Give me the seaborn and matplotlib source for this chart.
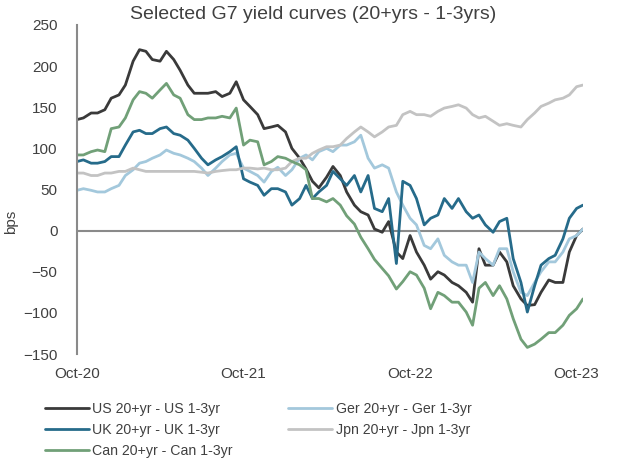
import pandas as pd
import numpy as np
import matplotlib
matplotlib.use("Agg")
import matplotlib.pyplot as plt
import matplotlib.dates as mdates
import seaborn as sns

# semi-monthly observations, Oct-2020 .. mid Oct-2023 (bps)
dates = pd.date_range("2020-10-01", periods=74, freq="SMS")

us = [135, 137, 143, 143, 147, 161, 165, 177, 206, 220,
      218, 208, 206, 218, 208, 195, 177, 167, 167, 167,
      169, 163, 167, 181, 159, 151, 141, 124, 126, 128,
      120, 100, 88, 75, 60, 52, 65, 78, 67, 47,
      31, 23, 19, 2, -2, 11, -26, -34, -6, -26,
      -42, -59, -50, -54, -63, -67, -75, -87, -22, -42,
      -42, -26, -38, -67, -83, -91, -90, -75, -60, -63,
      -63, -26, -6, 2]

ger = [49, 51, 49, 47, 47, 51, 55, 67, 74, 82,
       84, 88, 92, 98, 94, 92, 88, 84, 76, 67,
       76, 84, 92, 94, 76, 72, 67, 59, 72, 77,
       67, 74, 88, 92, 86, 96, 100, 96, 104, 104,
       108, 116, 88, 76, 80, 76, 47, 31, 15, 7,
       -18, -22, -10, -30, -38, -42, -42, -63, -26, -34,
       -42, -22, -22, -50, -75, -79, -63, -50, -38, -38,
       -26, -10, -6, 2]

uk = [84, 86, 82, 82, 84, 90, 90, 104, 120, 122,
      118, 118, 124, 126, 118, 116, 110, 100, 88, 80,
      86, 90, 96, 102, 63, 59, 55, 43, 51, 51,
      47, 31, 39, 55, 39, 47, 55, 72, 63, 55,
      67, 47, 67, 27, 23, 39, -40, 60, 55, 39,
      7, 15, 19, 39, 27, 39, 23, 15, 19, 7,
      -2, 11, 15, -34, -63, -99, -67, -42, -34, -30,
      -10, 15, 27, 31]

jpn = [70, 70, 67, 67, 70, 70, 72, 72, 76, 74,
       72, 72, 72, 72, 72, 72, 72, 72, 71, 70,
       72, 73, 74, 74, 76, 76, 75, 76, 74, 74,
       76, 84, 88, 88, 94, 98, 102, 102, 104, 112,
       120, 126, 120, 114, 120, 126, 128, 141, 145, 141,
       141, 139, 145, 149, 151, 153, 149, 141, 137, 139,
       133, 128, 130, 128, 126, 135, 143, 151, 155, 159,
       161, 165, 175, 177]

can = [92, 92, 96, 98, 96, 124, 126, 137, 159, 169,
       167, 161, 171, 179, 165, 161, 141, 135, 135, 137,
       137, 139, 137, 149, 104, 110, 108, 80, 84, 90,
       88, 84, 80, 74, 39, 39, 35, 39, 31, 18,
       8, -8, -22, -35, -46, -55, -71, -62, -50, -54,
       -70, -95, -75, -79, -87, -87, -99, -115, -70, -63,
       -79, -67, -83, -107, -132, -142, -138, -132, -124, -124,
       -115, -103, -95, -83]

names = ["US 20+yr - US 1-3yr", "Ger 20+yr - Ger 1-3yr", "UK 20+yr - UK 1-3yr",
         "Jpn 20+yr - Jpn 1-3yr", "Can 20+yr - Can 1-3yr"]
colors = ["#3a3a3a", "#a3c8dc", "#266b8a", "#c3c3c3", "#71a078"]

df = pd.DataFrame({"date": dates, names[0]: us, names[1]: ger, names[2]: uk,
                   names[3]: jpn, names[4]: can})
long = df.melt(id_vars="date", var_name="series", value_name="bps")

sns.set_theme(style="white")
plt.rcParams["font.family"] = ["Liberation Sans", "DejaVu Sans"]
txt = "#404040"

fig = plt.figure(figsize=(6.27, 4.63), dpi=100)
ax = fig.add_axes([77 / 627, 1 - 354 / 463, (583 - 77) / 627, (354 - 25) / 463])

sns.lineplot(data=long, x="date", y="bps", hue="series", hue_order=names,
             palette=colors, linewidth=2.0, ax=ax, legend=True)

ax.axhline(0, color="#8a8a8a", linewidth=1.5, zorder=0)
ax.set_ylim(-150, 250)
ax.set_yticks(range(-150, 251, 50))
ax.set_xlim(dates[0], dates[-1])
ax.set_xticks(pd.to_datetime(["2020-10-01", "2021-10-01", "2022-10-01", "2023-10-01"]))
ax.xaxis.set_major_formatter(mdates.DateFormatter("%b-%y"))
ax.tick_params(axis="both", length=0, labelsize=11, colors=txt)
ax.tick_params(axis="y", pad=14)
ax.tick_params(axis="x", pad=9)
ax.set_xlabel("")
ax.set_ylabel("bps", fontsize=11, color=txt)
ax.yaxis.set_label_coords(-(77 - 18) / (583 - 77), (354 - 222) / (354 - 25))
for side in ["top", "right", "bottom"]:
    ax.spines[side].set_visible(False)
ax.spines["left"].set_color("#8a8a8a")
ax.spines["left"].set_linewidth(1.5)

fig.suptitle("Selected G7 yield curves (20+yrs - 1-3yrs)", x=0.5, y=1 - 6 / 463,
             va="top", fontsize=14, color=txt)

handles, labels = ax.get_legend_handles_labels()
ax.get_legend().remove()
order = [0, 2, 4, 1, 3]
fig.legend([handles[i] for i in order], [labels[i] for i in order],
           loc="upper left", bbox_to_anchor=(45 / 627, 1 - 402 / 463),
           ncol=2, frameon=False, fontsize=10.2, handlelength=3.1,
           handletextpad=0.25, columnspacing=3.9, labelspacing=0.48,
           borderpad=0, borderaxespad=0, labelcolor=txt)

fig.savefig("out.png", dpi=100)
